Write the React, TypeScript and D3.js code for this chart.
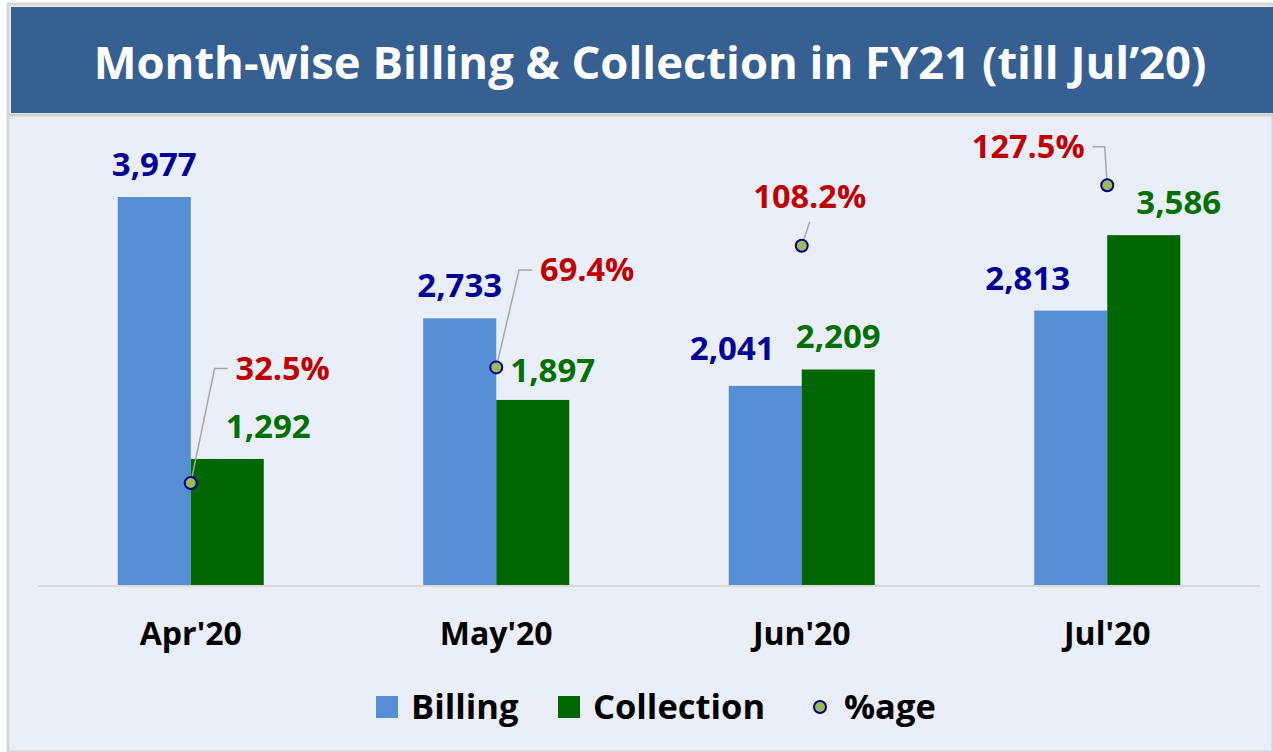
import React, { useEffect, useRef } from 'react';
import * as d3 from 'd3';

// chart data
const months = ["Apr'20", "May'20", "Jun'20", "Jul'20"];
const billing = [3977, 2733, 2041, 2813];
const collection = [1292, 1897, 2209, 3586];
const pctAge = [32.5, 69.4, 108.2, 127.5];
const legendKeys = ['Billing', 'Collection', '%age'];

// manual label nudges (dx, dy) like the hand-placed labels in the slide
const billingShift = [[0, 0], [0, 0], [-33, -5], [-43, 0]];
const collectionShift = [[41, 0], [20, 3], [0, 0], [35, 0]];
const pctShift = [[92, -103], [91, -86], [8, -38], [-79, -27]];
const leaderSide = ['left', 'left', 'below', 'right'];

const FONT = '"Open Sans", "Noto Sans", sans-serif';
const W = 1273;
const H = 752;

const App = () => {
	const chartRef = useRef<SVGSVGElement>(null);

	useEffect(() => {
		document.body.style.margin = '0';
		if (!chartRef.current) return;
		const svg = d3.select(chartRef.current);
		svg.selectAll('*').remove();

		const colors = { billing: '#558ED5', collection: '#006600', point: '#9BBB59', pointStroke: '#00008B' };

		// frame + background
		svg.append('rect').attr('x', 0).attr('y', 0).attr('width', W).attr('height', H).attr('fill', '#ffffff');
		svg.append('rect')
			.attr('x', 8).attr('y', 4).attr('width', W - 8).attr('height', H - 4)
			.attr('fill', '#E9EEF9')
			.attr('stroke', '#D6D6D6')
			.attr('stroke-width', 3);
		svg.append('rect')
			.attr('x', 11).attr('y', 7).attr('width', W - 11).attr('height', 106)
			.attr('fill', '#366092');
		svg.append('line')
			.attr('x1', 9).attr('x2', W).attr('y1', 115).attr('y2', 115)
			.attr('stroke', '#CFCFCF').attr('stroke-width', 3);

		svg.append('text')
			.attr('x', 650).attr('y', 79)
			.attr('text-anchor', 'middle')
			.style('font-family', FONT)
			.style('font-weight', 700)
			.style('font-size', '45.4px')
			.attr('fill', '#ffffff')
			.text('Month-wise Billing & Collection in FY21 (till Jul\u201920)');

		const x0 = d3.scaleBand().domain(months).range([38, 1260]).paddingInner(0.522).paddingOuter(0.261);
		const x1 = d3.scaleBand().domain(['billing', 'collection']).range([0, x0.bandwidth()]);
		const y = d3.scaleLinear().domain([0, 4500]).range([585, 146]);
		const y2 = d3.scaleLinear().domain([0, 140]).range([585, 146]);

		// bars
		const groups = svg.append('g')
			.selectAll('g')
			.data(months)
			.join('g')
			.attr('transform', d => `translate(${x0(d)},0)`);

		groups.append('rect')
			.attr('x', x1('billing')!)
			.attr('width', x1.bandwidth())
			.attr('y', (d, i) => y(billing[i]))
			.attr('height', (d, i) => y(0) - y(billing[i]))
			.attr('fill', colors.billing);

		groups.append('rect')
			.attr('x', x1('collection')!)
			.attr('width', x1.bandwidth())
			.attr('y', (d, i) => y(collection[i]))
			.attr('height', (d, i) => y(0) - y(collection[i]))
			.attr('fill', colors.collection);

		// baseline
		svg.append('line')
			.attr('x1', 38).attr('x2', 1260).attr('y1', y(0) + 1).attr('y2', y(0) + 1)
			.attr('stroke', '#D9D9D9').attr('stroke-width', 2);

		// category labels
		const xAxis = svg.append('g')
			.attr('transform', `translate(0,${y(0)})`)
			.call(d3.axisBottom(x0).tickSize(0).tickPadding(37));
		xAxis.select('.domain').remove();
		xAxis.selectAll('text')
			.style('font-family', FONT)
			.style('font-weight', 700)
			.style('font-size', '32px')
			.attr('fill', '#000000');

		const fmt = d3.format(',');
		const cx = (m: string, k: string) => x0(m)! + x1(k)! + x1.bandwidth() / 2;

		// value labels
		svg.append('g').selectAll('text')
			.data(months)
			.join('text')
			.attr('x', (d, i) => cx(d, 'billing') + billingShift[i][0])
			.attr('y', (d, i) => y(billing[i]) - 21 + billingShift[i][1])
			.attr('text-anchor', 'middle')
			.style('font-family', FONT)
			.style('font-weight', 700)
			.style('font-size', '33px')
			.attr('fill', '#000099')
			.text((d, i) => fmt(billing[i]));

		svg.append('g').selectAll('text')
			.data(months)
			.join('text')
			.attr('x', (d, i) => cx(d, 'collection') + collectionShift[i][0])
			.attr('y', (d, i) => y(collection[i]) - 21 + collectionShift[i][1])
			.attr('text-anchor', 'middle')
			.style('font-family', FONT)
			.style('font-weight', 700)
			.style('font-size', '33px')
			.attr('fill', '#007000')
			.text((d, i) => fmt(collection[i]));

		// percentage labels + leader lines
		const px = (m: string) => x0(m)! + x0.bandwidth() / 2;
		const leaders = svg.append('g');
		const pctLabels = svg.append('g').selectAll('text')
			.data(months)
			.join('text')
			.attr('x', (d, i) => px(d) + pctShift[i][0])
			.attr('y', (d, i) => y2(pctAge[i]) + pctShift[i][1])
			.attr('text-anchor', 'middle')
			.style('font-family', FONT)
			.style('font-weight', 700)
			.style('font-size', '32.5px')
			.attr('fill', '#C00000')
			.text((d, i) => pctAge[i].toFixed(1) + '%');

		pctLabels.each(function (d, i) {
			const bb = (this as SVGTextElement).getBBox();
			const ptx = px(d);
			const pty = y2(pctAge[i]);
			const mid = bb.y + bb.height / 2 + 1;
			let pts: [number, number][] = [];
			if (leaderSide[i] === 'left') pts = [[ptx, pty], [bb.x - 21, mid], [bb.x - 8, mid]];
			else if (leaderSide[i] === 'right') pts = [[ptx, pty], [bb.x + bb.width + 20, mid], [bb.x + bb.width + 8, mid]];
			else pts = [[ptx, pty], [ptx + 8, pty - 24]];
			leaders.append('path')
				.attr('d', d3.line()(pts))
				.attr('fill', 'none')
				.attr('stroke', '#A6A6A6')
				.attr('stroke-width', 1.5);
		});

		// points
		svg.append('g').selectAll('circle')
			.data(months)
			.join('circle')
			.attr('cx', d => px(d))
			.attr('cy', (d, i) => y2(pctAge[i]))
			.attr('r', 6)
			.attr('fill', colors.point)
			.attr('stroke', colors.pointStroke)
			.attr('stroke-width', 2);

		// legend
		const legend = svg.append('g').attr('transform', 'translate(0,707)');
		const legendX = [376, 558, 820];
		legendKeys.forEach((key, i) => {
			const g = legend.append('g').attr('transform', `translate(${legendX[i]},0)`);
			if (i < 2) {
				g.append('rect').attr('x', 0).attr('y', -11).attr('width', 22).attr('height', 22)
					.attr('fill', i === 0 ? colors.billing : colors.collection);
			} else {
				g.append('circle').attr('cx', 0).attr('cy', 0).attr('r', 6)
					.attr('fill', colors.point).attr('stroke', colors.pointStroke).attr('stroke-width', 2);
			}
			g.append('text')
				.attr('x', i < 2 ? 35 : 24)
				.attr('y', 12)
				.style('font-family', FONT)
				.style('font-weight', 700)
				.style('font-size', '34.5px')
				.attr('fill', '#000000')
				.text(key);
		});
	}, []);

	return <svg ref={chartRef} width={W} height={H} style={{ display: 'block' }}></svg>;
};

export default App;
